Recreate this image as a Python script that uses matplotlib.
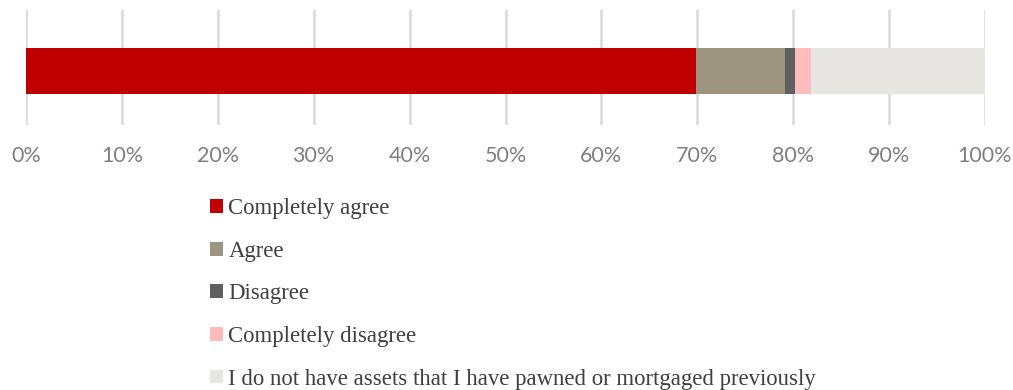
import matplotlib.pyplot as plt
from matplotlib.patches import Patch
from matplotlib.ticker import PercentFormatter

categories = ["Completely agree", "Agree", "Disagree", "Completely disagree",
              "I do not have assets that I have pawned or mortgaged previously"]
shares = [69.9, 9.2, 1.1, 1.7, 18.1]
colors = ["#c00000", "#9e9580", "#5f5f5f", "#ffbcbc", "#e8e6e2"]
xticks = list(range(0, 101, 10))

W, H = 1013, 390
fig = plt.figure(figsize=(W / 100, H / 100), dpi=100)
ax = fig.add_axes([26 / W, 1 - 125 / H, (985 - 26) / W, 115 / H])

left = 0.0
for name, val, col in zip(categories, shares, colors):
    ax.barh(0, val, left=left, height=0.4, color=col, zorder=3, label=name)
    left += val

ax.set_xlim(0, 100)
ax.set_ylim(-0.47, 0.53)
ax.set_xticks(xticks)
ax.xaxis.set_major_formatter(PercentFormatter(decimals=0))
ax.set_yticks([])
for s in ax.spines.values():
    s.set_visible(False)
ax.grid(axis="x", color="#d9d9d9", linewidth=1.8, zorder=0)
ax.tick_params(axis="x", length=0, pad=15, labelsize=15.5, labelcolor="#7f7f7f")
for lbl in ax.get_xticklabels():
    lbl.set_fontfamily("Lato")

handles = [Patch(facecolor=c, edgecolor="none") for c in colors]
fig.legend(handles, categories, loc="upper left",
           bbox_to_anchor=(201 / W, 1 - 189 / H), frameon=False,
           handlelength=0.55, handleheight=0.55, handletextpad=0.25,
           labelspacing=0.95, borderaxespad=0,
           prop={"family": "Liberation Serif", "size": 16.4},
           labelcolor="#404040")

fig.savefig("out.png", dpi=100)
